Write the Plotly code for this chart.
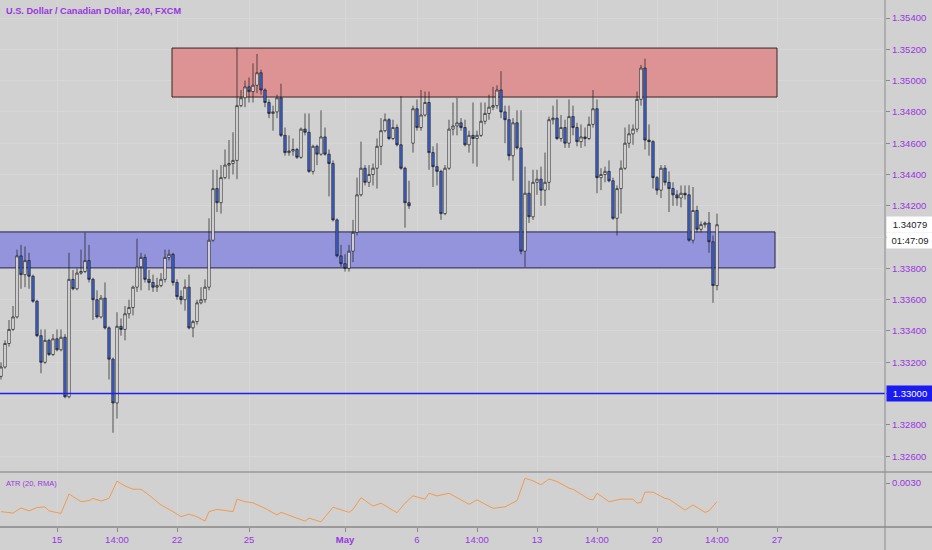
import plotly.graph_objects as go

# USD/CAD 4h bars, prices in pips (1.3311 -> 13311)
bar_index = list(range(-14, 166))

open_pips = [
    13311, 13317, 13332, 13341, 13349, 13388, 13376, 13385, 13375, 13359,
    13337, 13320, 13334, 13325, 13335, 13328, 13336, 13298, 13373, 13367,
    13377, 13378, 13385, 13373, 13360, 13349, 13361, 13342, 13322, 13294,
    13343, 13341, 13351, 13355, 13368, 13381, 13387, 13373, 13371, 13368,
    13369, 13373, 13387, 13389, 13371, 13362, 13360, 13368, 13342, 13346,
    13358, 13360, 13368, 13398, 13431, 13422, 13438, 13446, 13447, 13449,
    13484, 13489, 13496, 13493, 13497, 13505, 13494, 13486, 13479, 13480,
    13489, 13465, 13454, 13455, 13456, 13451, 13469, 13467, 13442, 13458,
    13453, 13464, 13453, 13447, 13411, 13388, 13383, 13380, 13391, 13403,
    13427, 13444, 13435, 13440, 13444, 13458, 13468, 13475, 13463, 13470,
    13459, 13444, 13422, 13460, 13482, 13470, 13478, 13486, 13454, 13445,
    13442, 13415, 13444, 13469, 13471, 13473, 13470, 13459, 13465, 13463,
    13465, 13474, 13479, 13483, 13484, 13494, 13480, 13475, 13452, 13473,
    13457, 13391, 13428, 13413, 13435, 13437, 13430, 13435, 13475, 13476,
    13463, 13470, 13460, 13477, 13470, 13461, 13464, 13463, 13472, 13482,
    13438, 13440, 13442, 13436, 13412, 13431, 13444, 13460, 13466, 13469,
    13488, 13508, 13462, 13461, 13438, 13430, 13444, 13435, 13431, 13427,
    13425, 13428, 13427, 13398, 13417, 13405, 13408, 13409, 13397, 13369,
]
high_pips = [
    13320, 13334, 13347, 13356, 13392, 13395, 13394, 13390, 13376, 13360,
    13341, 13341, 13335, 13338, 13341, 13341, 13338, 13390, 13379, 13380,
    13392, 13403, 13395, 13374, 13366, 13363, 13371, 13343, 13323, 13352,
    13348, 13356, 13360, 13369, 13399, 13390, 13389, 13379, 13376, 13374,
    13377, 13392, 13392, 13390, 13373, 13366, 13373, 13376, 13347, 13360,
    13368, 13373, 13412, 13443, 13443, 13446, 13456, 13462, 13467, 13521,
    13494, 13500, 13502, 13511, 13517, 13507, 13495, 13488, 13484, 13491,
    13498, 13470, 13465, 13463, 13457, 13470, 13479, 13479, 13459, 13459,
    13481, 13470, 13456, 13449, 13412, 13395, 13389, 13395, 13411, 13438,
    13461, 13446, 13446, 13447, 13463, 13476, 13479, 13476, 13475, 13472,
    13490, 13445, 13436, 13484, 13488, 13494, 13493, 13493, 13458, 13460,
    13443, 13446, 13475, 13486, 13489, 13476, 13475, 13468, 13486, 13468,
    13486, 13486, 13491, 13496, 13497, 13506, 13484, 13484, 13476, 13481,
    13481, 13445, 13436, 13443, 13443, 13445, 13454, 13477, 13484, 13488,
    13478, 13475, 13488, 13484, 13473, 13472, 13470, 13477, 13494, 13488,
    13444, 13445, 13449, 13438, 13433, 13449, 13470, 13472, 13472, 13493,
    13510, 13514, 13472, 13462, 13439, 13446, 13446, 13442, 13435, 13430,
    13433, 13433, 13433, 13432, 13420, 13410, 13410, 13416, 13401, 13415,
]
low_pips = [
    13309, 13316, 13330, 13340, 13348, 13367, 13368, 13367, 13358, 13336,
    13313, 13319, 13324, 13324, 13327, 13327, 13297, 13297, 13366, 13366,
    13376, 13377, 13371, 13347, 13348, 13348, 13341, 13309, 13275, 13284,
    13337, 13334, 13348, 13350, 13365, 13366, 13371, 13366, 13365, 13365,
    13368, 13371, 13385, 13369, 13360, 13357, 13353, 13341, 13336, 13344,
    13357, 13358, 13366, 13397, 13416, 13415, 13437, 13437, 13440, 13437,
    13483, 13483, 13486, 13486, 13492, 13491, 13483, 13476, 13468, 13476,
    13464, 13452, 13452, 13452, 13450, 13450, 13465, 13441, 13440, 13446,
    13452, 13452, 13426, 13410, 13387, 13381, 13378, 13378, 13384, 13401,
    13426, 13433, 13432, 13433, 13431, 13446, 13467, 13462, 13462, 13458,
    13443, 13406, 13418, 13454, 13468, 13468, 13477, 13443, 13432, 13433,
    13411, 13414, 13443, 13465, 13465, 13468, 13458, 13454, 13447, 13445,
    13464, 13472, 13475, 13481, 13482, 13476, 13460, 13449, 13436, 13456,
    13389, 13381, 13409, 13411, 13427, 13420, 13420, 13430, 13472, 13462,
    13461, 13457, 13457, 13465, 13458, 13457, 13458, 13462, 13470, 13428,
    13430, 13435, 13435, 13411, 13401, 13415, 13443, 13457, 13459, 13467,
    13484, 13456, 13452, 13431, 13427, 13425, 13433, 13416, 13420, 13420,
    13419, 13424, 13397, 13396, 13403, 13403, 13406, 13390, 13358, 13366,
]
close_pips = [
    13317, 13332, 13341, 13349, 13388, 13376, 13385, 13375, 13359, 13337,
    13320, 13334, 13325, 13335, 13328, 13336, 13298, 13373, 13367, 13377,
    13378, 13385, 13373, 13360, 13349, 13361, 13342, 13322, 13294, 13343,
    13341, 13351, 13355, 13368, 13381, 13387, 13373, 13371, 13368, 13369,
    13373, 13387, 13389, 13371, 13362, 13360, 13368, 13342, 13346, 13358,
    13360, 13368, 13398, 13431, 13422, 13438, 13446, 13447, 13449, 13484,
    13489, 13496, 13493, 13497, 13505, 13494, 13486, 13479, 13480, 13489,
    13465, 13454, 13455, 13456, 13451, 13469, 13467, 13442, 13458, 13453,
    13464, 13453, 13447, 13411, 13388, 13383, 13380, 13391, 13403, 13427,
    13444, 13435, 13440, 13444, 13458, 13468, 13475, 13463, 13470, 13459,
    13444, 13422, 13420, 13482, 13470, 13478, 13486, 13454, 13445, 13442,
    13415, 13444, 13469, 13471, 13473, 13470, 13459, 13465, 13463, 13465,
    13474, 13479, 13483, 13484, 13494, 13480, 13475, 13452, 13473, 13457,
    13391, 13428, 13413, 13435, 13437, 13430, 13435, 13475, 13476, 13463,
    13470, 13460, 13477, 13470, 13461, 13464, 13463, 13472, 13482, 13438,
    13440, 13442, 13436, 13412, 13431, 13444, 13460, 13466, 13469, 13488,
    13508, 13462, 13461, 13438, 13430, 13444, 13435, 13431, 13427, 13425,
    13428, 13427, 13398, 13417, 13405, 13408, 13409, 13397, 13369, 13407.9,
]

# ATR (20, RMA)
atr_bar = [
    -14, -11, -9, -7, -5, -3, -2, 1, 3, 6, 8, 9, 11, 13, 15, 17, 19, 21, 23, 26,
    29, 31, 33, 35, 37, 38, 40, 44, 45, 47, 49, 52, 55, 56, 59, 62, 63, 66, 69, 73,
    74, 76, 79, 81, 85, 87, 89, 92, 93, 95, 98, 101, 103, 105, 109, 112, 115, 117, 119, 121,
    123, 125, 128, 129, 133, 134, 135, 138, 141, 144, 145, 146, 147, 149, 152, 153, 157, 159, 162, 163,
    165,
]
atr_value = [
    0.00222, 0.00218, 0.00232, 0.00224, 0.00233, 0.00235, 0.00224, 0.00217, 0.00270, 0.00249,
    0.00252, 0.00258, 0.00251, 0.00258, 0.00305, 0.00292, 0.00283, 0.00283, 0.00267, 0.00240,
    0.00222, 0.00208, 0.00215, 0.00208, 0.00196, 0.00222, 0.00228, 0.00222, 0.00256, 0.00249,
    0.00246, 0.00231, 0.00213, 0.00220, 0.00208, 0.00196, 0.00204, 0.00194, 0.00234, 0.00220,
    0.00228, 0.00260, 0.00237, 0.00245, 0.00219, 0.00245, 0.00265, 0.00256, 0.00272, 0.00265,
    0.00272, 0.00254, 0.00242, 0.00254, 0.00231, 0.00235, 0.00252, 0.00313, 0.00306, 0.00295,
    0.00311, 0.00304, 0.00286, 0.00283, 0.00256, 0.00254, 0.00272, 0.00249, 0.00256, 0.00256,
    0.00245, 0.00247, 0.00275, 0.00275, 0.00258, 0.00256, 0.00226, 0.00240, 0.00220, 0.00224,
    0.00249,
]

date_tick_bar = [0, 15, 30, 48, 72, 90, 105, 120, 135, 150, 165, 180]
date_tick_text = ["15", "14:00", "22", "25", "<b>May</b>", "6", "14:00", "13", "14:00", "20", "14:00", "27"]

price_ticks = [1.326, 1.328, 1.330, 1.332, 1.334, 1.336, 1.338, 1.340,
               1.342, 1.344, 1.346, 1.348, 1.350, 1.352, 1.354]

resistance_zone = [1.34895, 1.35208]
resistance_bars = [28.75, 180]
support_zone = [1.33803, 1.34033]
support_bars = [-20, 179.5]
key_level = 1.33
last_price = 1.34079
countdown = "01:47:09"

PURPLE = "#9a35e0"
BG = "#d1d1d1"
GRID = "#d7d7d7"
FONT = "Liberation Sans, Arial, sans-serif"

opens = [p / 10000 for p in open_pips]
highs = [p / 10000 for p in high_pips]
lows = [p / 10000 for p in low_pips]
closes = [p / 10000 for p in close_pips]

# price labels hidden where the axis badges sit on top of them
covered = [key_level, 1.340]
price_tick_text = ["" if any(abs(v - c) < 1e-9 for c in covered) else "%.5f" % v
                   for v in price_ticks]

candles = go.Candlestick(
    x = bar_index,
    open = opens,
    high = highs,
    low = lows,
    close = closes,
    increasing = dict(line = dict(color = "#1a1a1a", width = 0.7), fillcolor = "#ffffff"),
    decreasing = dict(line = dict(color = "#1a1a1a", width = 0.7), fillcolor = "#3f68dc"),
    whiskerwidth = 0,
    xaxis = "x",
    yaxis = "y",
    showlegend = False,
)

atr_line = go.Scatter(
    x = atr_bar,
    y = atr_value,
    mode = "lines",
    line = dict(color = "#f39a50", width = 1),
    xaxis = "x2",
    yaxis = "y2",
    showlegend = False,
)

fig = go.Figure(data = [candles, atr_line])

split = 55 / 527

fig.update_layout(
    width = 932,
    height = 550,
    margin = dict(l = 0, r = 47, t = 0, b = 23),
    paper_bgcolor = BG,
    plot_bgcolor = BG,
    boxgap = 0.15,
    font = dict(family = FONT, color = PURPLE, size = 9),
    xaxis = dict(
        domain = [0, 1],
        range = [-14.25, 207],
        anchor = "y",
        tickvals = date_tick_bar,
        showticklabels = False,
        showgrid = True,
        gridcolor = GRID,
        zeroline = False,
        rangeslider = dict(visible = False),
    ),
    xaxis2 = dict(
        domain = [0, 1],
        range = [-14.25, 207],
        anchor = "y2",
        matches = "x",
        tickvals = date_tick_bar,
        ticktext = date_tick_text,
        ticks = "outside",
        ticklen = 4,
        tickcolor = "#8a8a8a",
        tickfont = dict(size = 9.5, color = PURPLE),
        showgrid = True,
        gridcolor = GRID,
        zeroline = False,
    ),
    yaxis = dict(
        domain = [split, 1],
        range = [1.32499, 1.35515],
        side = "right",
        anchor = "x",
        tickvals = price_ticks,
        ticktext = price_tick_text,
        ticks = "outside",
        ticklen = 4,
        tickcolor = "#8a8a8a",
        tickfont = dict(size = 9.5, color = PURPLE),
        showgrid = True,
        gridcolor = GRID,
        zeroline = False,
    ),
    yaxis2 = dict(
        domain = [0, split],
        range = [0.0018, 0.0033],
        side = "right",
        anchor = "x2",
        tickvals = [0.003],
        ticktext = ["0.0030"],
        ticks = "outside",
        ticklen = 4,
        tickcolor = "#8a8a8a",
        tickfont = dict(size = 9.5, color = PURPLE),
        showgrid = False,
        zeroline = False,
    ),
)

# supply / demand zones
fig.add_shape(type = "rect", xref = "x", yref = "y",
              x0 = resistance_bars[0], x1 = resistance_bars[1],
              y0 = resistance_zone[0], y1 = resistance_zone[1],
              fillcolor = "#dd9393", line = dict(color = "#3b2222", width = 1), layer = "between")
fig.add_shape(type = "rect", xref = "x", yref = "y",
              x0 = support_bars[0], x1 = support_bars[1],
              y0 = support_zone[0], y1 = support_zone[1],
              fillcolor = "#9494dc", line = dict(color = "#22224a", width = 1), layer = "between")

# key level line
fig.add_shape(type = "line", xref = "x domain", yref = "y",
              x0 = 0, x1 = 1, y0 = key_level, y1 = key_level,
              line = dict(color = "#1f1ff5", width = 1.5))

# pane separators and axis border
fig.add_shape(type = "line", xref = "paper", yref = "paper",
              x0 = 0, x1 = 932 / 885, y0 = split, y1 = split,
              line = dict(color = "#7d7d7d", width = 1))
fig.add_shape(type = "line", xref = "paper", yref = "paper",
              x0 = 0, x1 = 932 / 885, y0 = 0, y1 = 0,
              line = dict(color = "#9a9a9a", width = 2))
fig.add_shape(type = "line", xref = "paper", yref = "paper",
              x0 = 1, x1 = 1, y0 = -23 / 527, y1 = 1,
              line = dict(color = "#8a8a8a", width = 1))

# texts
fig.add_annotation(xref = "paper", yref = "paper", x = 0.005, y = 1, yshift = -4,
                   xanchor = "left", yanchor = "top", showarrow = False,
                   text = "<b>U.S. Dollar / Canadian Dollar, 240, FXCM</b>",
                   font = dict(size = 9.2, color = PURPLE, family = FONT))
fig.add_annotation(xref = "paper", yref = "y2 domain", x = 0.005, y = 0.8,
                   xanchor = "left", yanchor = "middle", showarrow = False,
                   text = "ATR (20, RMA)",
                   font = dict(size = 7.5, color = PURPLE, family = FONT))

# price scale labels
fig.add_annotation(xref = "paper", yref = "y", x = 1, y = key_level, xshift = 1,
                   xanchor = "left", yanchor = "middle", showarrow = False,
                   text = "%.5f" % key_level, width = 42, align = "center",
                   bgcolor = "#1a1af2", borderpad = 2,
                   font = dict(size = 9.5, color = "#ffffff", family = FONT))
fig.add_annotation(xref = "paper", yref = "y", x = 1, y = last_price, xshift = 1,
                   xanchor = "left", yanchor = "middle", showarrow = False,
                   text = "%.5f" % last_price, width = 42, align = "center",
                   bgcolor = "#ffffff", borderpad = 2,
                   font = dict(size = 9.5, color = "#222222", family = FONT))
fig.add_annotation(xref = "paper", yref = "y", x = 1, y = last_price, xshift = 1, yshift = -16,
                   xanchor = "left", yanchor = "middle", showarrow = False,
                   text = countdown, width = 42, align = "center",
                   bgcolor = "#ffffff", borderpad = 2,
                   font = dict(size = 9.5, color = "#222222", family = FONT))

fig.write_html(
    "out.html",
    config = {"displayModeBar": False},
    post_script = "document.body.style.margin='0';document.body.style.overflow='hidden';",
)
